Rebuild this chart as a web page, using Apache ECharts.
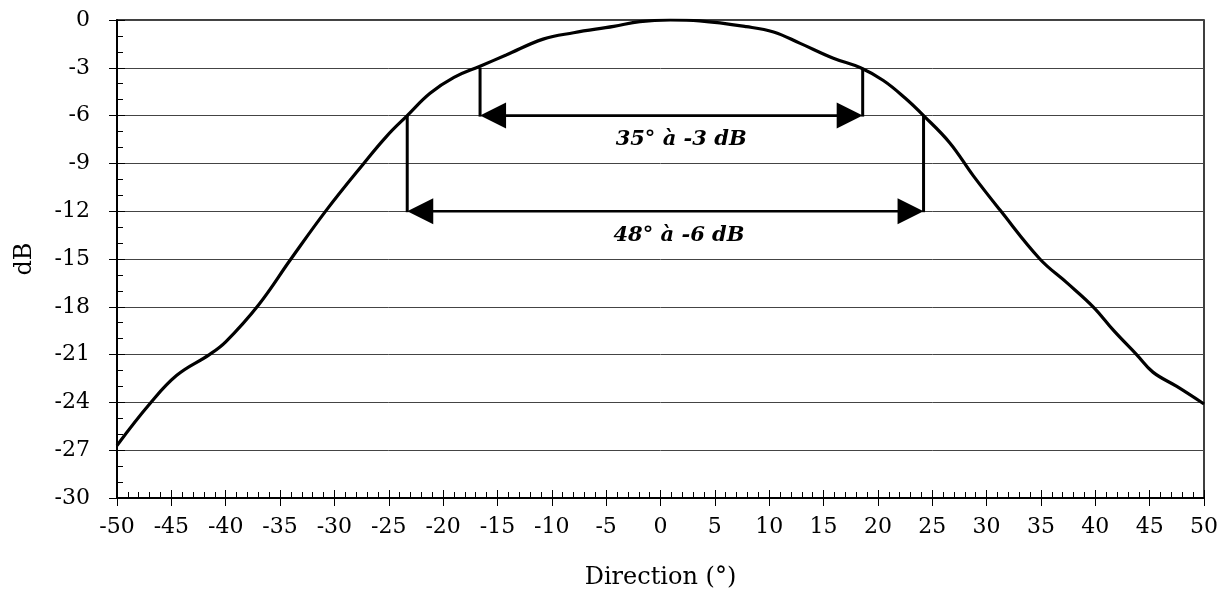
<!DOCTYPE html>
<html>
<head>
<meta charset="utf-8">
<style>html,body{margin:0;padding:0;background:#fff}#c{width:1228px;height:596px}</style>
<script src="https://cdn.jsdelivr.net/npm/echarts@6/dist/echarts.min.js"></script>
</head>
<body>
<div id="c"></div>
<script>
// Directivity curve (x = direction in degrees, y = level in dB)
const dirX = [-50, -47, -44.5, -41.5, -40, -37, -34, -30.7, -27.3, -25.2, -23.3, -21.2, -19, -16.6, -14.2, -10.8, -8, -4.3, -1.9, 0.9, 3.6, 7.9, 10.4, 12.8, 15.9, 18.4, 20.5, 22.5, 24.2, 26.6, 28.8, 31.2, 34.9, 37.4, 39.8, 41.7, 43.8, 45.3, 47.5, 50];
const dirDB = [-26.7, -24.1, -22.3, -21.0, -20.2, -17.9, -15.0, -11.9, -9.0, -7.3, -6.0, -4.6, -3.6, -2.9, -2.2, -1.2, -0.8, -0.4, -0.1, 0, -0.06, -0.42, -0.75, -1.45, -2.4, -3.0, -3.8, -4.9, -6.0, -7.7, -9.8, -11.9, -15.0, -16.5, -18.0, -19.5, -21.0, -22.1, -23.0, -24.1];

// Beamwidth annotations
const annLeft = [-16.6, -23.3];
const annRight = [18.6, 24.2];
const annTop = [-3, -6];
const annArrow = [-6, -12];
const annText = ['35° à -3 dB', '48° à -6 dB'];
const annTextX = [1.9, 1.7];
const annTextY = [-7.5, -13.5];

const FONT = '"DejaVu Serif", "Liberation Serif", serif';

const chart = echarts.init(document.getElementById('c'));
const curve = dirX.map((x, i) => [x, dirDB[i]]);
const annData = annLeft.map((v, i) => [v, annRight[i], annTop[i], annArrow[i], annTextX[i], annTextY[i], i]);

const baseX = {type: 'value', min: -50, max: 50, interval: 5, position: 'bottom'};
const baseY = {type: 'value', min: -30, max: 0, interval: 3, position: 'left'};

chart.setOption({
  animation: false,
  grid: {left: 117, right: 24, top: 20, bottom: 98, show: true, borderColor: '#000', borderWidth: 1.5, backgroundColor: 'transparent'},
  xAxis: [
    Object.assign({}, baseX, {
      name: 'Direction (°)', nameLocation: 'middle', nameGap: 68,
      nameTextStyle: {fontFamily: FONT, fontSize: 24, color: '#000'},
      axisLine: {show: true, onZero: false, lineStyle: {color: '#000', width: 2}},
      axisTick: {show: true, inside: false, length: 8, lineStyle: {color: '#000', width: 1}},
      axisLabel: {fontFamily: FONT, fontSize: 22, color: '#000', margin: 18},
      splitLine: {show: false}
    }),
    Object.assign({}, baseX, {
      axisLine: {show: false, onZero: false},
      axisTick: {show: true, inside: true, length: 8, lineStyle: {color: '#000', width: 1}},
      minorTick: {show: true, splitNumber: 5, length: 6, lineStyle: {color: '#000', width: 1}},
      axisLabel: {show: false},
      splitLine: {show: false}
    })
  ],
  yAxis: [
    Object.assign({}, baseY, {
      name: 'dB', nameLocation: 'middle', nameGap: 80, nameRotate: 90,
      nameTextStyle: {fontFamily: FONT, fontSize: 24, color: '#000'},
      axisLine: {show: true, onZero: false, lineStyle: {color: '#000', width: 2}},
      axisTick: {show: true, inside: false, length: 8, lineStyle: {color: '#000', width: 1}},
      axisLabel: {fontFamily: FONT, fontSize: 22, color: '#000', margin: 27},
      splitLine: {show: true, lineStyle: {color: '#444', width: 1}}
    }),
    Object.assign({}, baseY, {
      axisLine: {show: false, onZero: false},
      axisTick: {show: true, inside: true, length: 8, lineStyle: {color: '#000', width: 1}},
      minorTick: {show: true, splitNumber: 3, length: 6, lineStyle: {color: '#000', width: 1}},
      axisLabel: {show: false},
      splitLine: {show: false}
    })
  ],
  series: [
    {
      type: 'line', xAxisIndex: 0, yAxisIndex: 0, data: curve,
      smooth: 0.4, showSymbol: false, symbol: 'none',
      lineStyle: {color: '#000', width: 3.2}, z: 5
    },
    {
      type: 'custom', coordinateSystem: 'cartesian2d', xAxisIndex: 0, yAxisIndex: 0,
      data: annData, z: 6, silent: true,
      renderItem: function (params, api) {
        const xl = api.value(0), xr = api.value(1), yt = api.value(2), ya = api.value(3);
        const tx = api.value(4), ty = api.value(5), idx = api.value(6);
        const lt = api.coord([xl, yt]), la = api.coord([xl, ya]);
        const rt = api.coord([xr, yt]), ra = api.coord([xr, ya]);
        const tp = api.coord([tx, ty]);
        const L = 26, H = 13;
        const ls = {stroke: '#000', lineWidth: 3};
        return {
          type: 'group',
          children: [
            {type: 'line', shape: {x1: lt[0], y1: lt[1], x2: la[0], y2: la[1] + 1}, style: ls},
            {type: 'line', shape: {x1: rt[0], y1: rt[1], x2: ra[0], y2: ra[1] + 1}, style: ls},
            {type: 'line', shape: {x1: la[0] + L - 2, y1: la[1], x2: ra[0] - L + 2, y2: ra[1]}, style: {stroke: '#000', lineWidth: 2.6}},
            {type: 'polygon', shape: {points: [[la[0], la[1]], [la[0] + L, la[1] - H], [la[0] + L, la[1] + H]]}, style: {fill: '#000'}},
            {type: 'polygon', shape: {points: [[ra[0], ra[1]], [ra[0] - L, ra[1] - H], [ra[0] - L, ra[1] + H]]}, style: {fill: '#000'}},
            {type: 'text', style: {text: annText[idx], x: tp[0], y: tp[1], align: 'center', verticalAlign: 'middle',
              font: 'italic bold 21px ' + FONT, fill: '#000'}}
          ]
        };
      }
    }
  ]
});
</script>
</body>
</html>
